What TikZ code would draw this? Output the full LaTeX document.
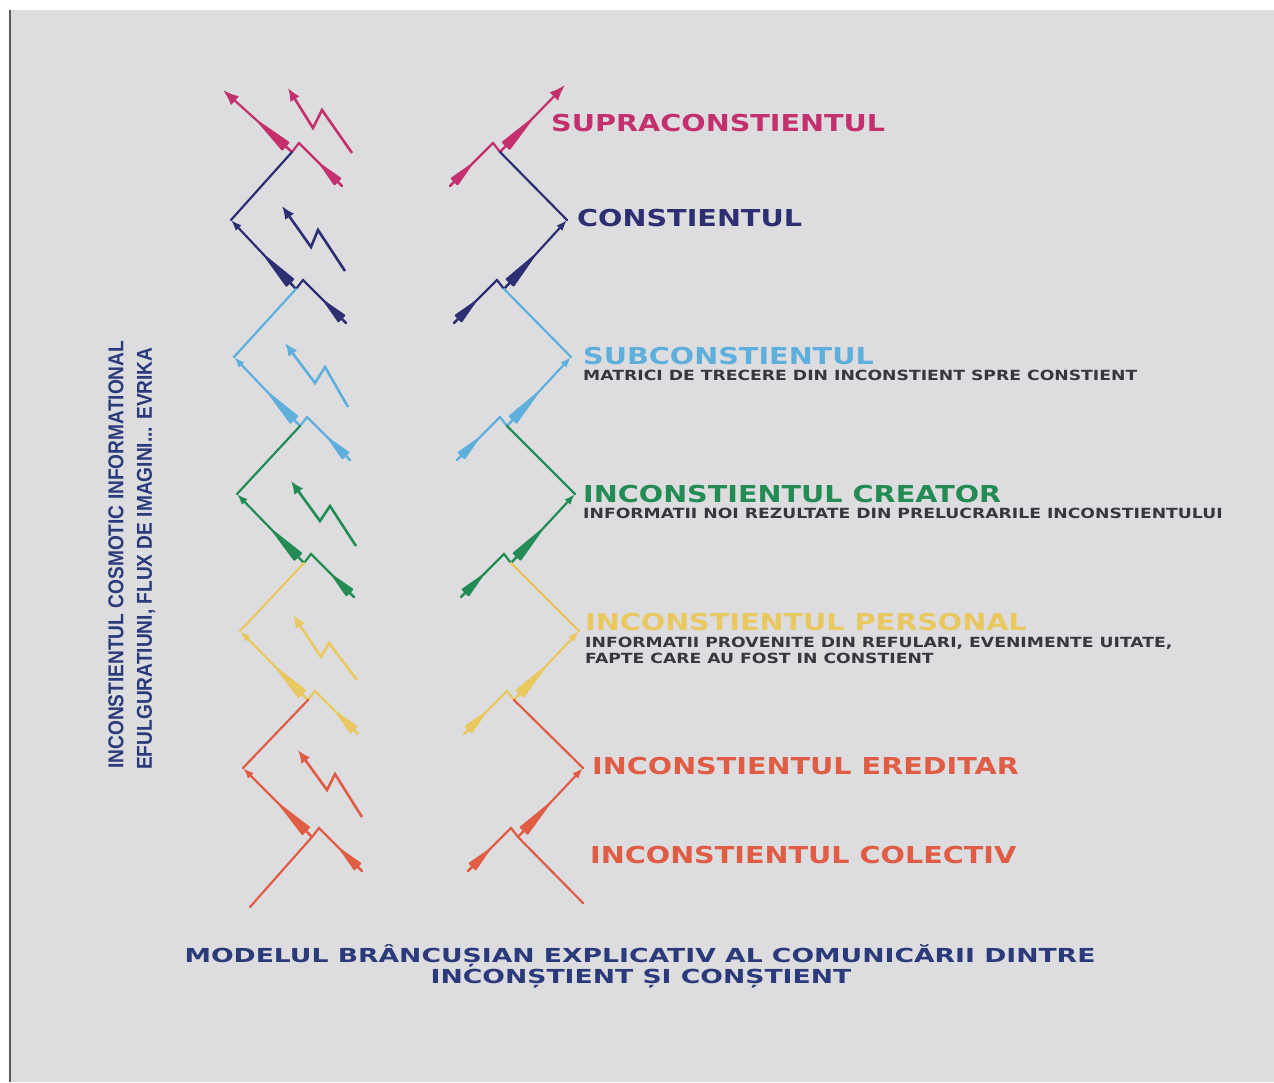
\documentclass[tikz,border=0pt]{standalone}
\usepackage{fontspec}
\usetikzlibrary{calc,arrows.meta}
\newfontfamily\widefont[FakeStretch=1.23]{DejaVu Sans}
\newfontfamily\titlefont[FakeStretch=1.38]{DejaVu Sans}
\newfontfamily\narrowfont[FakeStretch=0.89]{Liberation Sans}
\definecolor{Paper}{RGB}{221,221,224}
\definecolor{SupraPink}{RGB}{196,48,110}
\definecolor{ConsNavy}{RGB}{45,47,115}
\definecolor{SubBlue}{RGB}{95,175,220}
\definecolor{CreaGreen}{RGB}{35,140,85}
\definecolor{PersYellow}{RGB}{232,200,95}
\definecolor{EredRed}{RGB}{224,92,68}
\definecolor{SubGray}{RGB}{55,55,62}
\definecolor{TitleNavy}{RGB}{42,58,122}
\tikzset{zig/.style={line width=2.2pt,line cap=round,line join=miter},
  smalltip/.style={-{Latex[length=11pt 0,width=8pt 0]}},
  bigtip/.style={-{Latex[length=16pt 0,width=12pt 0]}},
  wedge/.style={line width=2.2pt,-{Triangle[length=45pt 0,width=11pt 0,round]}},
  tail/.style={line width=2.2pt,-{Triangle[length=30pt 0,width=10pt 0,round]}},
  bolt/.style={line width=2.6pt,line join=miter,-{Latex[length=13pt 0,width=11pt 0]}},
  lab/.style={anchor=west,inner sep=0pt,font=\widefont\bfseries\fontsize{23.3}{26}\selectfont},
  sub/.style={anchor=base west,inner sep=0pt,align=left,text=SubGray,font=\widefont\bfseries\fontsize{14}{16}\selectfont},
  vlab/.style={anchor=west,rotate=90,inner sep=0pt,text=TitleNavy,font=\narrowfont\bfseries\fontsize{21.5}{24}\selectfont},
  title/.style={anchor=base,inner sep=0pt,text=TitleNavy,font=\titlefont\bfseries\fontsize{19.3}{22}\selectfont}}

\begin{document}
\begin{tikzpicture}[x=1pt,y=-1pt]
\useasboundingbox (0,0) rectangle (1274,1082);
\fill[white] (0,0) rectangle (1274,1082);
\fill[Paper] (10,10) rectangle (1274,1082);
\draw[line width=1.5pt,black!65] (10,10) -- (10,1082);
% left column
\coordinate (ltip) at (223,90);
\coordinate (lj0) at (292,152); \coordinate (la0) at (299,143); \coordinate (ls0) at (342,186);
\coordinate (lv1) at (231,220);
\coordinate (lj1) at (296,289); \coordinate (la1) at (303,280); \coordinate (ls1) at (346,323);
\coordinate (lv2) at (234,357);
\coordinate (lj2) at (300,426); \coordinate (la2) at (307,417); \coordinate (ls2) at (350,460);
\coordinate (lv3) at (237,494);
\coordinate (lj3) at (304,563); \coordinate (la3) at (311,554); \coordinate (ls3) at (354,597);
\coordinate (lv4) at (240,631);
\coordinate (lj4) at (308,700); \coordinate (la4) at (315,691); \coordinate (ls4) at (358,734);
\coordinate (lv5) at (243,768);
\coordinate (lj5) at (312,837); \coordinate (la5) at (319,828); \coordinate (ls5) at (362,871);
\coordinate (lend) at (250,907);
% right column
\coordinate (rtip) at (565,85);
\coordinate (rj0) at (500,152); \coordinate (ra0) at (493,143); \coordinate (rs0) at (450,186);
\coordinate (rv1) at (567,220);
\coordinate (rj1) at (504,289); \coordinate (ra1) at (497,280); \coordinate (rs1) at (454,323);
\coordinate (rv2) at (571,357);
\coordinate (rj2) at (507,426); \coordinate (ra2) at (500,417); \coordinate (rs2) at (457,460);
\coordinate (rv3) at (575,494);
\coordinate (rj3) at (511,563); \coordinate (ra3) at (504,554); \coordinate (rs3) at (461,597);
\coordinate (rv4) at (579,631);
\coordinate (rj4) at (514,700); \coordinate (ra4) at (507,691); \coordinate (rs4) at (464,734);
\coordinate (rv5) at (583,768);
\coordinate (rj5) at (518,837); \coordinate (ra5) at (511,828); \coordinate (rs5) at (468,871);
\coordinate (rend) at (583,903);
% supraconstient
\draw[zig,SupraPink,bigtip] (lj0) -- (ltip); \draw[zig,SupraPink,bigtip] (rj0) -- (rtip);
\draw[zig,SupraPink] (lj0) -- (la0) -- (ls0); \draw[zig,SupraPink] (rj0) -- (ra0) -- (rs0);
\draw[wedge,SupraPink] (lj0) -- ($(lj0)!45pt!(ltip)$); \draw[wedge,SupraPink] (rj0) -- ($(rj0)!45pt!(rtip)$);
\draw[tail,SupraPink] (ls0) -- ($(ls0)!30pt!(la0)$); \draw[tail,SupraPink] (rs0) -- ($(rs0)!30pt!(ra0)$);
\draw[bolt,SupraPink] (352,153) -- (322,110) -- (313,128) -- (288,88);
% constient
\draw[zig,ConsNavy] (lj0) -- (lv1); \draw[zig,ConsNavy] (rj0) -- (rv1);
\draw[zig,ConsNavy,smalltip] (lj1) -- (lv1); \draw[zig,ConsNavy,smalltip] (rj1) -- (rv1);
\draw[zig,ConsNavy] (lj1) -- (la1) -- (ls1); \draw[zig,ConsNavy] (rj1) -- (ra1) -- (rs1);
\draw[wedge,ConsNavy] (lj1) -- ($(lj1)!45pt!(lv1)$); \draw[wedge,ConsNavy] (rj1) -- ($(rj1)!45pt!(rv1)$);
\draw[tail,ConsNavy] (ls1) -- ($(ls1)!30pt!(la1)$); \draw[tail,ConsNavy] (rs1) -- ($(rs1)!30pt!(ra1)$);
\draw[bolt,ConsNavy] (345,271) -- (318,230) -- (311,247) -- (282,206);
% subconstient
\draw[zig,SubBlue] (lj1) -- (lv2); \draw[zig,SubBlue] (rj1) -- (rv2);
\draw[zig,SubBlue,smalltip] (lj2) -- (lv2); \draw[zig,SubBlue,smalltip] (rj2) -- (rv2);
\draw[zig,SubBlue] (lj2) -- (la2) -- (ls2); \draw[zig,SubBlue] (rj2) -- (ra2) -- (rs2);
\draw[wedge,SubBlue] (lj2) -- ($(lj2)!45pt!(lv2)$); \draw[wedge,SubBlue] (rj2) -- ($(rj2)!45pt!(rv2)$);
\draw[tail,SubBlue] (ls2) -- ($(ls2)!30pt!(la2)$); \draw[tail,SubBlue] (rs2) -- ($(rs2)!30pt!(ra2)$);
\draw[bolt,SubBlue] (348,407) -- (325,367) -- (315,383) -- (285,343);
% inconstient creator
\draw[zig,CreaGreen] (lj2) -- (lv3); \draw[zig,CreaGreen] (rj2) -- (rv3);
\draw[zig,CreaGreen,smalltip] (lj3) -- (lv3); \draw[zig,CreaGreen,smalltip] (rj3) -- (rv3);
\draw[zig,CreaGreen] (lj3) -- (la3) -- (ls3); \draw[zig,CreaGreen] (rj3) -- (ra3) -- (rs3);
\draw[wedge,CreaGreen] (lj3) -- ($(lj3)!45pt!(lv3)$); \draw[wedge,CreaGreen] (rj3) -- ($(rj3)!45pt!(rv3)$);
\draw[tail,CreaGreen] (ls3) -- ($(ls3)!30pt!(la3)$); \draw[tail,CreaGreen] (rs3) -- ($(rs3)!30pt!(ra3)$);
\draw[bolt,CreaGreen] (356,546) -- (330,506) -- (320,521) -- (291,481);
% inconstient personal
\draw[zig,PersYellow] (lj3) -- (lv4); \draw[zig,PersYellow] (rj3) -- (rv4);
\draw[zig,PersYellow,smalltip] (lj4) -- (lv4); \draw[zig,PersYellow,smalltip] (rj4) -- (rv4);
\draw[zig,PersYellow] (lj4) -- (la4) -- (ls4); \draw[zig,PersYellow] (rj4) -- (ra4) -- (rs4);
\draw[wedge,PersYellow] (lj4) -- ($(lj4)!45pt!(lv4)$); \draw[wedge,PersYellow] (rj4) -- ($(rj4)!45pt!(rv4)$);
\draw[tail,PersYellow] (ls4) -- ($(ls4)!30pt!(la4)$); \draw[tail,PersYellow] (rs4) -- ($(rs4)!30pt!(ra4)$);
\draw[bolt,PersYellow] (357,680) -- (329,643) -- (321,657) -- (293,615);
% inconstient ereditar
\draw[zig,EredRed] (lj4) -- (lv5); \draw[zig,EredRed] (rj4) -- (rv5);
\draw[zig,EredRed,smalltip] (lj5) -- (lv5); \draw[zig,EredRed,smalltip] (rj5) -- (rv5);
\draw[zig,EredRed] (lj5) -- (la5) -- (ls5); \draw[zig,EredRed] (rj5) -- (ra5) -- (rs5);
\draw[wedge,EredRed] (lj5) -- ($(lj5)!45pt!(lv5)$); \draw[wedge,EredRed] (rj5) -- ($(rj5)!45pt!(rv5)$);
\draw[tail,EredRed] (ls5) -- ($(ls5)!30pt!(la5)$); \draw[tail,EredRed] (rs5) -- ($(rs5)!30pt!(ra5)$);
\draw[bolt,EredRed] (362,817) -- (335,774) -- (327,790) -- (298,750);
% inconstient colectiv
\draw[zig,EredRed] (lj5) -- (lend); \draw[zig,EredRed] (rj5) -- (rend);
% labels
\node[lab,text=SupraPink] (supra) at (551,123) {SUPRACONSTIENTUL};
\node[lab,text=ConsNavy] (cons) at (577,218) {CONSTIENTUL};
\node[lab,text=SubBlue] (subc) at (583,356) {SUBCONSTIENTUL};
\node[sub] (subtxt) at (583,380) {MATRICI DE TRECERE DIN INCONSTIENT SPRE CONSTIENT};
\node[lab,text=CreaGreen] (crea) at (583,494) {INCONSTIENTUL CREATOR};
\node[sub] (creatxt) at (583,518) {INFORMATII NOI REZULTATE DIN PRELUCRARILE INCONSTIENTULUI};
\node[lab,text=PersYellow] (pers) at (585,622) {INCONSTIENTUL PERSONAL};
\node[sub] (perstxt) at (585,663) {INFORMATII PROVENITE DIN REFULARI, EVENIMENTE UITATE,\\FAPTE CARE AU FOST IN CONSTIENT};
\node[lab,text=EredRed] (ered) at (592,766) {INCONSTIENTUL EREDITAR};
\node[lab,text=EredRed] (colec) at (590,855) {INCONSTIENTUL COLECTIV};
\node[vlab] (cosmic) at (116,769) {INCONSTIENTUL COSMOTIC INFORMATIONAL};
\node[vlab] (flux) at (146,770) {EFULGURATIUNI, FLUX DE IMAGINI... EVRIKA};
\node[title] (title1) at (640,962) {MODELUL BRÂNCUȘIAN EXPLICATIV AL COMUNICĂRII DINTRE};
\node[title] (title2) at (641,983) {INCONȘTIENT ȘI CONȘTIENT};
\end{tikzpicture}
\end{document}
